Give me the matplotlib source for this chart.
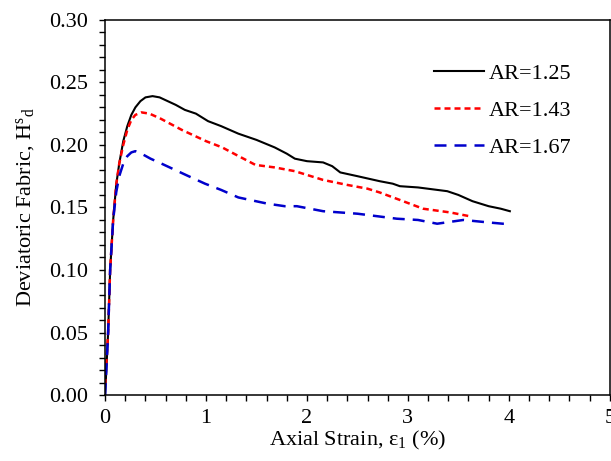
import matplotlib
matplotlib.use("Agg")
import matplotlib.pyplot as plt
from matplotlib.ticker import MultipleLocator

plt.rcParams['font.family'] = ['Liberation Serif', 'DejaVu Serif']
plt.rcParams['mathtext.fontset'] = 'custom'
plt.rcParams['mathtext.rm'] = 'Liberation Serif'
plt.rcParams['mathtext.it'] = 'Liberation Serif:italic'

# AR = 1.25
x_125 = [0, 0.03, 0.05, 0.08, 0.11, 0.14, 0.18, 0.22, 0.26, 0.30, 0.35, 0.40, 0.47, 0.54,
         0.62, 0.70, 0.79, 0.90, 1.02, 1.15, 1.32, 1.50, 1.68, 1.80, 1.88, 2.00, 2.16,
         2.25, 2.33, 2.50, 2.72, 2.85, 2.92, 3.10, 3.39, 3.50, 3.64, 3.80, 3.92, 4.01]
y_125 = [0, 0.05, 0.10, 0.14, 0.168, 0.185, 0.203, 0.215, 0.224, 0.230, 0.235, 0.238, 0.239,
         0.238, 0.235, 0.232, 0.228, 0.225, 0.219, 0.215, 0.209, 0.204, 0.198, 0.193,
         0.189, 0.187, 0.186, 0.183, 0.178, 0.175, 0.171, 0.169, 0.167, 0.166, 0.163,
         0.160, 0.155, 0.151, 0.149, 0.147]

# AR = 1.43
x_143 = [0, 0.03, 0.05, 0.08, 0.11, 0.14, 0.18, 0.22, 0.26, 0.30, 0.36, 0.44, 0.55, 0.76,
         1.00, 1.16, 1.30, 1.49, 1.68, 1.88, 2.00, 2.16, 2.40, 2.60, 2.72, 2.92, 3.15,
         3.42, 3.61]
y_143 = [0.008, 0.05, 0.10, 0.14, 0.168, 0.185, 0.200, 0.212, 0.220, 0.224, 0.226, 0.225,
         0.221, 0.212, 0.203, 0.198, 0.192, 0.184, 0.182, 0.179, 0.176, 0.172, 0.168,
         0.165, 0.162, 0.156, 0.149, 0.146, 0.143]

# AR = 1.67
x_167 = [0, 0.03, 0.05, 0.08, 0.11, 0.14, 0.18, 0.22, 0.26, 0.30, 0.36, 0.45, 0.56, 0.80,
         0.99, 1.15, 1.32, 1.61, 1.78, 1.90, 2.16, 2.50, 2.89, 3.10, 3.29, 3.55, 3.80,
         3.94, 4.00]
y_167 = [0, 0.05, 0.10, 0.14, 0.162, 0.175, 0.185, 0.191, 0.194, 0.195, 0.193, 0.189,
         0.185, 0.176, 0.169, 0.164, 0.158, 0.153, 0.151, 0.151, 0.147, 0.145, 0.141,
         0.140, 0.137, 0.140, 0.138, 0.137, 0.137]

fig = plt.figure(figsize=(6.11, 4.61), dpi=100)
ax = fig.add_axes([0.172, 0.143, 0.826, 0.814])

ax.plot(x_125, y_125, color='black', lw=1.5, label='AR=1.25')
ax.plot(x_143, y_143, color='red', lw=1.8, dashes=(2.4, 1.6), label='AR=1.43')
ax.plot(x_167, y_167, color='#0000cc', lw=1.8, dashes=(4.8, 3.2), label='AR=1.67')

ax.set_xlim(0, 5)
ax.set_ylim(0, 0.30)
ax.xaxis.set_major_locator(MultipleLocator(1))
ax.xaxis.set_minor_locator(MultipleLocator(0.2))
ax.yaxis.set_major_locator(MultipleLocator(0.05))
ax.yaxis.set_minor_locator(MultipleLocator(0.01))
ax.yaxis.set_major_formatter(plt.FuncFormatter(lambda v, p: f"{v:.2f}"))
ax.tick_params(which='both', direction='out', length=4, width=1, labelsize=16)
ax.tick_params(axis='y', which='major', pad=8)
ax.tick_params(axis='x', which='major', pad=6)
for s in ax.spines.values():
    s.set_linewidth(1.1)

ax.set_xlabel(r"Axial Strain, ε$_{\mathrm{1}}$ (%)", fontsize=16, labelpad=1)
ax.set_ylabel(r"Deviatoric Fabric, H$^{\mathrm{s}}$$_{\mathrm{d}}$", fontsize=16, labelpad=9)

ax.legend(loc='upper left', bbox_to_anchor=(0.612, 0.938), frameon=False, fontsize=16,
          handlelength=2.25, handletextpad=0.22, labelspacing=0.75)

fig.savefig("out.png", dpi=100)
